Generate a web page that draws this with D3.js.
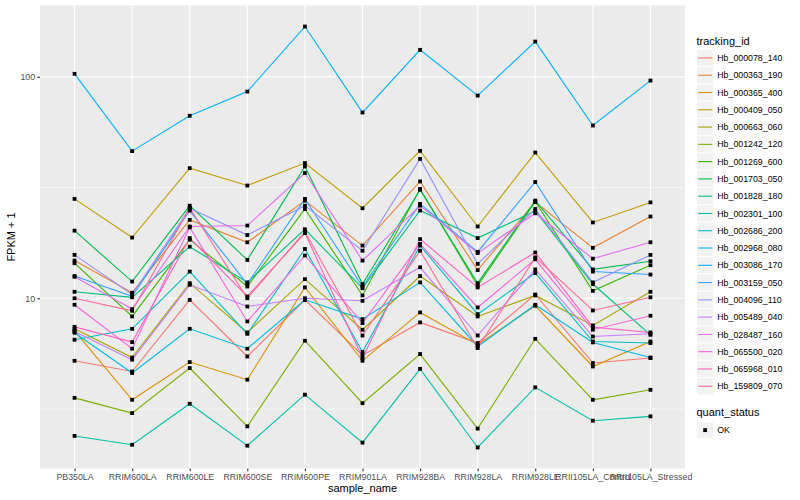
<!DOCTYPE html>
<html>
<head>
<meta charset="utf-8">
<script src="https://cdn.jsdelivr.net/npm/d3@7"></script>
<style>
body { margin: 0; background: #fff; }
text { font-family: "Liberation Sans", Arial, sans-serif; }
</style>
</head>
<body>
<svg id="chart"></svg>
<script>
// samples on the x axis
const samples = ["PB350LA", "RRIM600LA", "RRIM600LE", "RRIM600SE", "RRIM600PE", "RRIM901LA",
  "RRIM928BA", "RRIM928LA", "RRIM928LE", "RRII105LA_Control", "RRII105LA_Stressed"];

const trackingIds = ["Hb_000078_140", "Hb_000363_190", "Hb_000365_400", "Hb_000409_050", "Hb_000663_060",
  "Hb_001242_120", "Hb_001269_600", "Hb_001703_050", "Hb_001828_180", "Hb_002301_100",
  "Hb_002686_200", "Hb_002968_080", "Hb_003086_170", "Hb_003159_050", "Hb_004096_110",
  "Hb_005489_040", "Hb_028487_160", "Hb_065500_020", "Hb_065968_010", "Hb_159809_070"];

// FPKM + 1, one array per gene, in sample order
const hb_000078_140 = [5.22, 4.67, 9.84, 5.46, 9.84, 5.52, 7.78, 6.28, 10.4, 5.10, 5.37];
const hb_000363_190 = [14.8, 10.6, 22.6, 17.9, 27.6, 17.3, 33.7, 13.4, 27.2, 16.9, 23.4];
const hb_000365_400 = [7.13, 3.48, 5.15, 4.29, 11.2, 5.22, 8.63, 6.17, 9.25, 4.92, 6.38];
const hb_000409_050 = [28.1, 18.8, 38.7, 32.3, 40.8, 25.5, 46.3, 21.1, 45.5, 22.0, 27.1];
const hb_000663_060 = [7.28, 5.40, 11.7, 7.01, 12.2, 7.21, 12.6, 8.28, 10.3, 7.54, 10.7];
const hb_001242_120 = [3.55, 3.03, 4.84, 2.64, 6.43, 3.36, 5.60, 2.58, 6.56, 3.48, 3.86];
const hb_001269_600 = [14.4, 8.28, 18.4, 11.3, 25.3, 10.3, 31.2, 11.4, 27.3, 10.8, 14.1];
const hb_001703_050 = [20.2, 11.9, 26.2, 14.9, 39.4, 11.6, 30.9, 11.7, 27.6, 13.5, 14.7];
const hb_001828_180 = [10.7, 10.1, 17.1, 11.8, 20.5, 11.1, 24.9, 18.7, 24.8, 11.6, 6.84];
const hb_002301_100 = [2.39, 2.18, 3.34, 2.16, 3.67, 2.23, 4.80, 2.12, 3.96, 2.80, 2.93];
const hb_002686_200 = [6.50, 7.28, 13.2, 6.91, 16.7, 5.72, 17.3, 8.48, 13.0, 6.38, 6.28];
const hb_002968_080 = [6.99, 4.60, 7.28, 5.92, 9.84, 8.05, 11.8, 6.06, 9.35, 6.32, 5.40];
const hb_003086_170 = [103.2, 46.2, 66.7, 85.8, 168.7, 69.0, 132.4, 82.3, 144.3, 60.3, 96.2];
const hb_003159_050 = [12.6, 10.2, 24.9, 11.6, 28.1, 11.3, 26.7, 16.2, 33.5, 13.2, 12.8];
const hb_004096_110 = [15.7, 10.4, 25.5, 19.3, 26.2, 16.4, 42.6, 14.3, 25.3, 11.8, 15.7];
const hb_005489_040 = [7.08, 5.28, 11.5, 9.18, 10.0, 9.74, 13.8, 6.79, 13.5, 6.72, 6.91];
const hb_028487_160 = [12.5, 8.94, 21.1, 21.3, 36.8, 14.8, 26.2, 16.0, 24.2, 15.1, 17.9];
const hb_065500_020 = [9.35, 5.92, 20.9, 7.86, 15.6, 7.73, 17.6, 9.09, 15.0, 7.21, 8.34];
const hb_065968_010 = [7.43, 6.34, 18.7, 10.2, 19.7, 5.37, 18.5, 11.2, 16.1, 7.41, 7.01];
const hb_159809_070 = [10.0, 8.78, 25.6, 10.0, 20.0, 6.79, 16.4, 5.96, 15.3, 8.81, 10.1];

const yTicks = [10, 100];
const yMinor = [Math.sqrt(10), Math.sqrt(1000)];

const seriesValues = [hb_000078_140, hb_000363_190, hb_000365_400, hb_000409_050, hb_000663_060,
  hb_001242_120, hb_001269_600, hb_001703_050, hb_001828_180, hb_002301_100,
  hb_002686_200, hb_002968_080, hb_003086_170, hb_003159_050, hb_004096_110,
  hb_005489_040, hb_028487_160, hb_065500_020, hb_065968_010, hb_159809_070];

// ggplot hue palette, 20 levels
const colors = ["#F8766D", "#EA8331", "#D89000", "#C09B00", "#A3A500", "#7CAE00", "#39B600", "#00BB4E",
  "#00BF7D", "#00C1A3", "#00BFC4", "#00BAE0", "#00B0F6", "#35A2FF", "#9590FF", "#C77CFF",
  "#E76BF3", "#FA62DB", "#FF62BC", "#FF6C91"];

const width = 800, height = 500;
const panel = {left: 40, right: 685, top: 5.5, bottom: 468.5};
const font = '"Liberation Sans", Arial, sans-serif';

const series = trackingIds.map((id, i) => ({id: id, color: colors[i], values: seriesValues[i]}));

const svg = d3.select("#chart").attr("width", width).attr("height", height);

const x = d3.scalePoint()
  .domain(samples)
  .range([panel.left, panel.right])
  .padding(0.6);

// log scale with ggplot's 5% expansion
const all = seriesValues.flat();
const lo = Math.log10(d3.min(all)), hi = Math.log10(d3.max(all));
const ex = (hi - lo) * 0.05;
const y = d3.scaleLog()
  .domain([Math.pow(10, lo - ex), Math.pow(10, hi + ex)])
  .range([panel.bottom, panel.top]);

svg.append("rect")
  .attr("x", panel.left).attr("y", panel.top)
  .attr("width", panel.right - panel.left).attr("height", panel.bottom - panel.top)
  .attr("fill", "#EBEBEB");

const grid = svg.append("g");
grid.selectAll(".minor").data(yMinor).enter().append("line")
  .attr("x1", panel.left).attr("x2", panel.right)
  .attr("y1", d => y(d)).attr("y2", d => y(d))
  .attr("stroke", "#fff").attr("stroke-width", 0.55);
grid.selectAll(".majory").data(yTicks).enter().append("line")
  .attr("x1", panel.left).attr("x2", panel.right)
  .attr("y1", d => y(d)).attr("y2", d => y(d))
  .attr("stroke", "#fff").attr("stroke-width", 1.1);
grid.selectAll(".majorx").data(samples).enter().append("line")
  .attr("x1", d => x(d)).attr("x2", d => x(d))
  .attr("y1", panel.top).attr("y2", panel.bottom)
  .attr("stroke", "#fff").attr("stroke-width", 1.1);

const line = d3.line()
  .x((d, i) => x(samples[i]))
  .y(d => y(d));

svg.append("g").selectAll("path").data(series).enter().append("path")
  .attr("d", d => line(d.values))
  .attr("fill", "none")
  .attr("stroke", d => d.color)
  .attr("stroke-width", 1.1);

const pts = svg.append("g");
series.forEach(s => {
  pts.selectAll(null).data(s.values).enter().append("rect")
    .attr("x", (d, i) => x(samples[i]) - 1.9)
    .attr("y", d => y(d) - 1.9)
    .attr("width", 3.8).attr("height", 3.8)
    .attr("fill", "#000");
});

// axes
const xAxis = d3.axisBottom(x).tickSize(2.75).tickPadding(2.2);
const yAxis = d3.axisLeft(y).tickValues(yTicks).tickFormat(d3.format("d")).tickSize(2.75).tickPadding(2.2);

const gx = svg.append("g").attr("transform", `translate(0,${panel.bottom})`).call(xAxis);
const gy = svg.append("g").attr("transform", `translate(${panel.left},0)`).call(yAxis);
[gx, gy].forEach(g => {
  g.select(".domain").remove();
  g.selectAll(".tick line").attr("stroke", "#333333").attr("stroke-width", 1.1);
  g.selectAll(".tick text").attr("fill", "#4D4D4D").style("font-family", font).style("font-size", "8.8px");
});

svg.append("text")
  .attr("x", (panel.left + panel.right) / 2).attr("y", 492)
  .attr("text-anchor", "middle").style("font-size", "11px").attr("fill", "#000")
  .text("sample_name");

svg.append("text")
  .attr("transform", `translate(15,${(panel.top + panel.bottom) / 2}) rotate(-90)`)
  .attr("text-anchor", "middle").style("font-size", "11px").attr("fill", "#000")
  .text("FPKM + 1");

// legend: tracking_id
const lg = svg.append("g").attr("transform", "translate(696.5,0)");
lg.append("text").attr("x", 0).attr("y", 44.5).style("font-size", "11px").text("tracking_id");
const keySize = 17.28, keyTop = 49.3;
const keys = lg.selectAll(".key").data(series).enter().append("g")
  .attr("transform", (d, i) => `translate(0,${keyTop + i * keySize})`);
keys.append("rect").attr("width", keySize).attr("height", keySize)
  .attr("fill", "#F2F2F2").attr("stroke", "#fff").attr("stroke-width", 1);
keys.append("line").attr("x1", 1.7).attr("x2", keySize - 1.7)
  .attr("y1", keySize / 2).attr("y2", keySize / 2)
  .attr("stroke", d => d.color).attr("stroke-width", 1.1);
keys.append("text").attr("x", keySize + 3.5).attr("y", keySize / 2 + 3.1)
  .style("font-size", "8.8px").attr("fill", "#000").text(d => d.id);

// legend: quant_status
lg.append("text").attr("x", 0).attr("y", 416).style("font-size", "11px").text("quant_status");
const qk = lg.append("g").attr("transform", "translate(0,421.5)");
qk.append("rect").attr("width", keySize).attr("height", keySize)
  .attr("fill", "#F2F2F2").attr("stroke", "#fff");
qk.append("rect").attr("x", keySize / 2 - 1.9).attr("y", keySize / 2 - 1.9)
  .attr("width", 3.8).attr("height", 3.8).attr("fill", "#000");
qk.append("text").attr("x", keySize + 3.5).attr("y", keySize / 2 + 3.1)
  .style("font-size", "8.8px").text("OK");
</script>
</body>
</html>
